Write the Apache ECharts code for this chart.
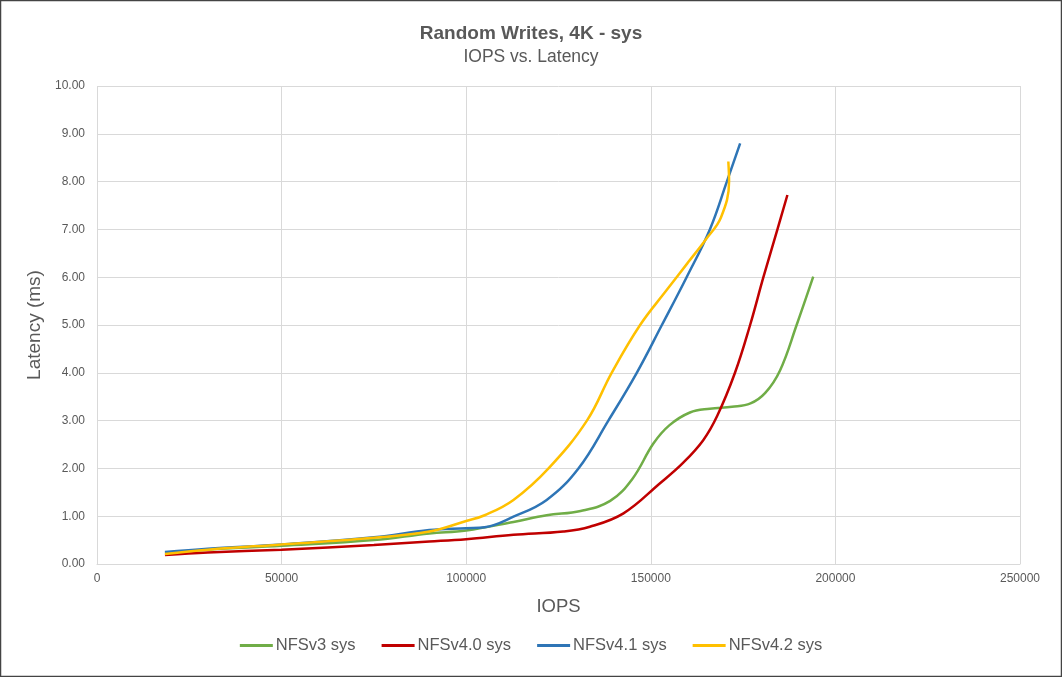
<!DOCTYPE html>
<html>
<head>
<meta charset="utf-8">
<script src="https://cdn.jsdelivr.net/npm/echarts@6/dist/echarts.min.js"></script>
<style>
html,body{margin:0;padding:0;background:#fff;}
#chart{width:1062px;height:677px;}
</style>
</head>
<body>
<div id="chart"></div>
<script>
const titleText = 'Random Writes, 4K - sys';
const subtitleText = 'IOPS vs. Latency';
const xAxisName = 'IOPS';
const yAxisName = 'Latency (ms)';
const seriesNames = ['NFSv3 sys', 'NFSv4.0 sys', 'NFSv4.1 sys', 'NFSv4.2 sys'];
const seriesColors = ['#70AD47', '#C00000', '#2E75B6', '#FFC000'];

const nfsv3 = [[18400,0.23],[30000,0.30],[50000,0.38],[75000,0.50],[90000,0.64],[100000,0.70],[112800,0.88],[121800,1.02],[131000,1.11],[139000,1.32],[145000,1.78],[150700,2.52],[155000,2.90],[160600,3.17],[166000,3.25],[172000,3.29],[177000,3.36],[181000,3.58],[185000,4.05],[189500,5.0],[194000,6.01]];
const nfsv40 = [[18400,0.19],[30000,0.24],[50000,0.30],[75000,0.40],[90000,0.47],[100000,0.52],[112800,0.61],[126300,0.68],[133500,0.78],[142600,1.06],[152500,1.69],[158800,2.12],[164200,2.59],[168000,3.1],[172800,4.0],[176900,5.0],[180500,6.0],[184300,7.0],[187000,7.72]];
const nfsv41 = [[18400,0.25],[30000,0.32],[50000,0.41],[75000,0.56],[90000,0.71],[100000,0.75],[105000,0.77],[112800,0.99],[121800,1.34],[130400,2.0],[138500,3.0],[146200,4.0],[153000,5.0],[159700,6.0],[166000,7.0],[170600,8.0],[174200,8.8]];
const nfsv42 = [[18400,0.21],[30000,0.30],[50000,0.41],[75000,0.55],[90000,0.68],[100000,0.90],[105000,1.02],[112800,1.34],[122300,2.0],[132700,3.0],[139400,4.0],[147100,5.0],[154300,5.73],[160000,6.3],[165000,6.8],[169000,7.25],[171200,8.0],[171000,8.42]];
const seriesData = [nfsv3, nfsv40, nfsv41, nfsv42];

const chart = echarts.init(document.getElementById('chart'), null, {renderer:'canvas'});
const font = 'Liberation Sans, Arial, sans-serif';
chart.setOption({
  animation:false,
  backgroundColor:'#fff',
  graphic:[{type:'rect',shape:{x:0.5,y:0.5,width:1061,height:676},style:{fill:'none',stroke:'#444',lineWidth:1.5},silent:true}],
  title:{
    text:titleText, subtext:subtitleText, left:'center', top:19, itemGap:5,
    textStyle:{fontFamily:font,fontSize:19,fontWeight:'bold',color:'#595959'},
    subtextStyle:{fontFamily:font,fontSize:17.5,color:'#595959'}
  },
  legend:{
    bottom:18, left:'center', icon:'rect', itemWidth:33, itemHeight:3, itemGap:26,
    textStyle:{fontFamily:font,fontSize:16.5,color:'#595959',padding:[0,0,0,-2]},
    data:seriesNames
  },
  grid:{left:97,right:42,top:86,bottom:113,containLabel:false},
  xAxis:{
    type:'value', min:0, max:250000, interval:50000,
    name:xAxisName, nameLocation:'middle', nameGap:33,
    nameTextStyle:{fontFamily:font,fontSize:18.5,color:'#595959'},
    axisLine:{show:true,lineStyle:{color:'#d9d9d9'}},
    axisTick:{show:false},
    axisLabel:{fontFamily:font,fontSize:12,color:'#595959',margin:9,formatter:v=>String(v)},
    splitLine:{show:true,lineStyle:{color:'#d9d9d9',width:1}}
  },
  yAxis:{
    type:'value', min:0, max:10, interval:1,
    name:yAxisName, nameLocation:'middle', nameGap:48,
    nameTextStyle:{fontFamily:font,fontSize:19,color:'#595959'},
    axisLine:{show:false},
    axisTick:{show:false},
    axisLabel:{fontFamily:font,fontSize:12,color:'#595959',margin:12,formatter:v=>v.toFixed(2)},
    splitLine:{show:true,lineStyle:{color:'#d9d9d9',width:1}}
  },
  series: seriesNames.map((n,i)=>({
    name:n, type:'line', data:seriesData[i], smooth:0.4, showSymbol:false,
    color:seriesColors[i], lineStyle:{width:2.5,color:seriesColors[i]}
  }))
});
</script>
</body>
</html>
